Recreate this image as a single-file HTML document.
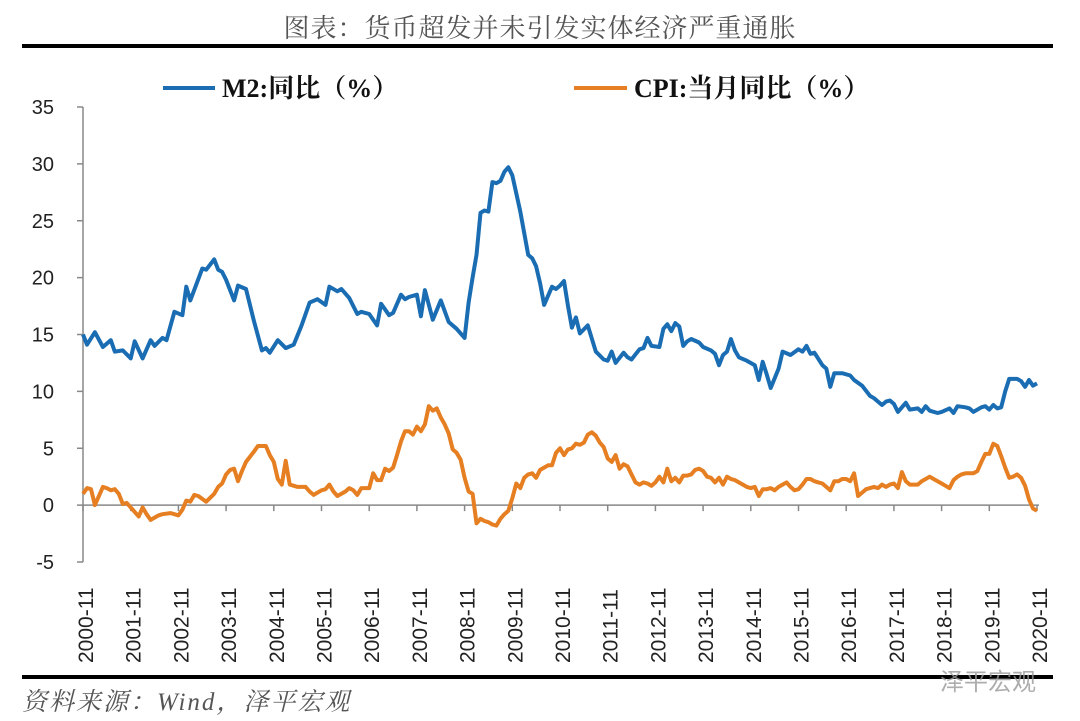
<!DOCTYPE html>
<html><head><meta charset="utf-8">
<style>
html,body{margin:0;padding:0;background:#fff;}
body{width:1080px;height:721px;overflow:hidden;position:relative;font-family:"Liberation Sans","Noto Sans CJK SC",sans-serif;}
.title{position:absolute;left:0;width:1080px;top:8px;text-align:center;font-family:"Liberation Serif","Noto Serif CJK SC",serif;font-size:26px;color:#555;letter-spacing:1px;}
.rule{position:absolute;left:22px;width:1031px;height:4px;background:#000;}
.src{position:absolute;left:22px;top:682px;font-family:"Liberation Serif","Noto Serif CJK SC",serif;font-style:italic;font-size:25px;color:#555;letter-spacing:2px;}
.wm{position:absolute;left:940px;top:662px;font-size:24px;color:#999;opacity:0.8;font-family:"Liberation Sans","Noto Sans CJK SC",sans-serif;}
</style></head>
<body>
<div class="title">图表：货币超发并未引发实体经济严重通胀</div>
<div class="rule" style="top:44px"></div>
<div class="rule" style="top:675px"></div>
<div class="src">资料来源：Wind，泽平宏观</div>
<div class="wm">泽平宏观</div>
<svg id="chart" width="1080" height="721" style="position:absolute;left:0;top:0">
<g>
<line x1="163" y1="88" x2="215" y2="88" stroke="#1a6db3" stroke-width="4"/>
<text x="222" y="97" font-family="Liberation Serif,Noto Serif CJK SC,serif" font-weight="bold" font-size="26" fill="#111">M2:同比（%）</text>
<line x1="574" y1="88" x2="627" y2="88" stroke="#e67e22" stroke-width="4"/>
<text x="634" y="97" font-family="Liberation Serif,Noto Serif CJK SC,serif" font-weight="bold" font-size="26" fill="#111">CPI:当月同比（%）</text>
</g>
</svg>
<script>
const yTicks=[35,30,25,20,15,10,5,0,-5];
const xLabels=["2000-11","2001-11","2002-11","2003-11","2004-11","2005-11","2006-11","2007-11","2008-11","2009-11","2010-11","2011-11","2012-11","2013-11","2014-11","2015-11","2016-11","2017-11","2018-11","2019-11","2020-11"];
const m2Months=[0,1,3,5,7,8,10,12,13,15,17,18,20,21,23,25,26,27,30,31,33,34,35,36,38,39,41,43,45,46,47,49,51,53,55,57,59,61,62,64,65,67,69,70,72,74,75,77,78,80,81,82,84,85,86,88,90,92,94,96,97,98,99,100,101,102,103,104,105,106,107,108,110,112,113,114,115,116,118,119,120,121,122,123,124,125,127,129,131,132,133,134,136,137,138,140,141,142,143,145,146,147,148,149,150,151,152,153,155,156,158,159,160,161,162,163,164,165,167,169,170,171,172,173,175,176,178,180,181,182,183,184,186,187,188,189,191,193,194,196,198,199,200,201,202,203,204,205,207,208,210,211,212,213,215,216,218,219,220,222,223,224,226,227,228,229,230,231,232,233,234,235,236,237,238,239,240];
const m2Values=[15.0,14.1,15.2,13.9,14.5,13.5,13.6,12.9,14.4,12.9,14.5,14.0,14.7,14.5,17.0,16.7,19.2,18.0,20.8,20.7,21.6,20.7,20.5,19.8,18.0,19.3,19.0,16.2,13.6,13.8,13.4,14.5,13.8,14.1,15.8,17.8,18.1,17.6,19.2,18.8,19.0,18.2,16.8,17.0,16.8,15.8,17.7,16.7,16.9,18.5,18.1,18.3,18.5,16.6,18.9,16.3,18.0,16.1,15.5,14.7,17.8,20.0,22.0,25.7,25.9,25.8,28.4,28.3,28.5,29.3,29.7,29.0,25.8,22.0,21.7,21.0,19.5,17.6,19.2,19.0,19.3,19.7,17.5,15.6,16.5,15.1,15.8,13.5,12.8,12.7,13.5,12.5,13.4,13.0,12.8,13.7,13.8,14.7,14.0,13.9,15.5,15.9,15.3,16.0,15.7,14.0,14.4,14.6,14.3,13.9,13.6,13.3,12.3,13.2,13.5,14.6,13.6,13.0,12.7,12.3,11.0,12.6,11.5,10.3,12.0,13.5,13.2,13.7,13.5,14.0,13.3,13.4,12.3,12.0,10.4,11.6,11.6,11.4,11.0,10.5,9.6,9.4,9.1,8.8,9.1,9.2,8.9,8.2,9.0,8.4,8.5,8.2,8.7,8.3,8.1,8.2,8.5,8.1,8.7,8.6,8.5,8.2,8.6,8.7,8.4,8.8,8.5,8.6,10.0,11.1,11.1,11.1,10.9,10.4,11.0,10.5,10.7];
const cpiMonths=[0,1,2,3,5,6,7,8,9,10,11,12,13,14,15,16,17,18,19,20,22,23,24,25,26,27,28,29,31,33,34,35,36,37,38,39,40,41,43,44,46,47,48,49,50,51,52,54,56,57,58,60,61,62,63,64,66,67,68,69,70,72,73,74,75,76,77,78,79,80,81,82,83,84,85,86,87,88,89,90,91,92,93,94,95,96,97,98,99,100,101,102,103,104,105,106,107,108,109,110,111,112,113,114,115,116,117,118,119,120,121,122,123,124,125,126,127,128,129,130,131,132,133,134,135,136,137,138,139,140,141,142,143,144,145,146,147,148,149,150,151,152,153,154,155,156,157,158,159,160,161,162,163,164,165,166,167,168,169,170,171,172,173,174,175,176,177,178,179,180,181,182,183,184,185,186,187,188,189,190,191,192,193,194,195,196,197,198,199,200,201,202,203,204,205,206,207,208,209,210,211,212,213,214,215,216,217,218,219,220,221,222,223,224,225,226,227,228,229,230,231,232,233,234,235,236,237,238,239,240];
const cpiValues=[1.0,1.5,1.4,0.0,1.6,1.5,1.3,1.4,1.0,0.1,0.2,-0.2,-0.6,-1.0,-0.2,-0.8,-1.3,-1.1,-0.9,-0.8,-0.7,-0.8,-0.9,-0.4,0.4,0.3,0.9,0.8,0.3,1.0,1.6,1.9,2.7,3.1,3.2,2.1,3.0,3.8,4.7,5.2,5.2,4.4,3.8,2.3,1.8,3.9,1.8,1.6,1.6,1.2,0.9,1.3,1.4,1.8,1.2,0.8,1.2,1.5,1.3,0.9,1.5,1.5,2.8,2.2,2.2,3.2,3.0,3.3,4.4,5.6,6.5,6.5,6.2,6.9,6.5,7.1,8.7,8.3,8.5,7.7,7.1,6.3,4.9,4.6,4.0,2.4,1.2,1.0,-1.6,-1.2,-1.4,-1.5,-1.7,-1.8,-1.2,-0.8,-0.5,0.6,1.9,1.5,2.4,2.7,2.8,2.4,3.1,3.3,3.5,3.5,4.6,5.0,4.4,4.9,5.0,5.4,5.3,5.5,6.2,6.4,6.1,5.5,5.1,4.1,3.8,4.4,3.2,3.6,3.4,2.7,2.0,1.8,2.0,1.9,1.7,2.0,2.5,2.0,3.2,2.1,2.4,2.0,2.6,2.6,2.7,3.1,3.2,3.0,2.5,2.4,2.0,2.4,1.8,2.5,2.3,2.2,2.0,1.8,1.6,1.5,1.6,0.8,1.4,1.4,1.5,1.3,1.6,1.8,2.0,1.6,1.3,1.4,1.8,2.3,2.3,2.1,2.0,1.9,1.6,1.3,2.1,2.1,2.3,2.3,2.1,2.8,0.8,1.1,1.4,1.5,1.6,1.5,1.8,1.6,1.8,1.9,1.5,2.9,2.1,1.8,1.8,1.8,2.1,2.3,2.5,2.3,2.1,1.9,1.7,1.5,2.2,2.5,2.7,2.8,2.8,2.8,3.0,3.8,4.5,4.5,5.4,5.2,4.3,3.3,2.4,2.5,2.7,2.4,1.7,0.5,-0.3,-0.5];

const NS="http://www.w3.org/2000/svg";
const svg=document.getElementById('chart');
const X0=83,X1=1037,NMONTHS=240;
const yMin=-5,yMax=35,Y_TOP=107,Y_BOT=562;
function xScale(m){return X0+(X1-X0)*m/NMONTHS;}
function yScale(v){return Y_BOT-(v-yMin)/(yMax-yMin)*(Y_BOT-Y_TOP);}
function mk(tag,attrs){const e=document.createElementNS(NS,tag);for(const k in attrs)e.setAttribute(k,attrs[k]);svg.appendChild(e);return e;}

const yAxis=mk('line',{x1:X0,y1:yScale(yMax),x2:X0,y2:yScale(yMin),stroke:'#888','stroke-width':1.5});


yTicks.forEach(v=>{
  const t=mk('line',{x1:X0-6,y1:yScale(v),x2:X0,y2:yScale(v),stroke:'#888','stroke-width':1.5});
  
  
  const l=mk('text',{x:54,y:yScale(v)+7,'text-anchor':'end','font-size':20,fill:'#222','font-family':'Liberation Sans,sans-serif'});
  l.textContent=v;
  
  
});
const xAxis=mk('line',{x1:X0,y1:yScale(0),x2:X1+2,y2:yScale(0),stroke:'#888','stroke-width':1.5});


xLabels.forEach((s,i)=>{
  const m=i*12;const x=xScale(m);
  const t=mk('line',{x1:x,y1:yScale(0),x2:x,y2:yScale(0)+6,stroke:'#888','stroke-width':1.5});
  
  
  const l=mk('text',{x:0,y:0,'font-size':21,fill:'#222','font-family':'Liberation Sans,sans-serif','text-anchor':'start',transform:'translate('+(x+10)+',663) rotate(-90)'});
  l.textContent=s;
  
  
});
function path(ms,vs,color,name){
  let d='';ms.forEach((m,i)=>{d+=(i?'L':'M')+xScale(m).toFixed(1)+','+yScale(vs[i]).toFixed(1);});
  const p=mk('path',{d:d,fill:'none',stroke:color,'stroke-width':4,'stroke-linejoin':'round'});
  
  
}
path(cpiMonths,cpiValues,'#e67e22','cpi-line');
path(m2Months,m2Values,'#1a6db3','m2-line');
</script>
</body></html>
